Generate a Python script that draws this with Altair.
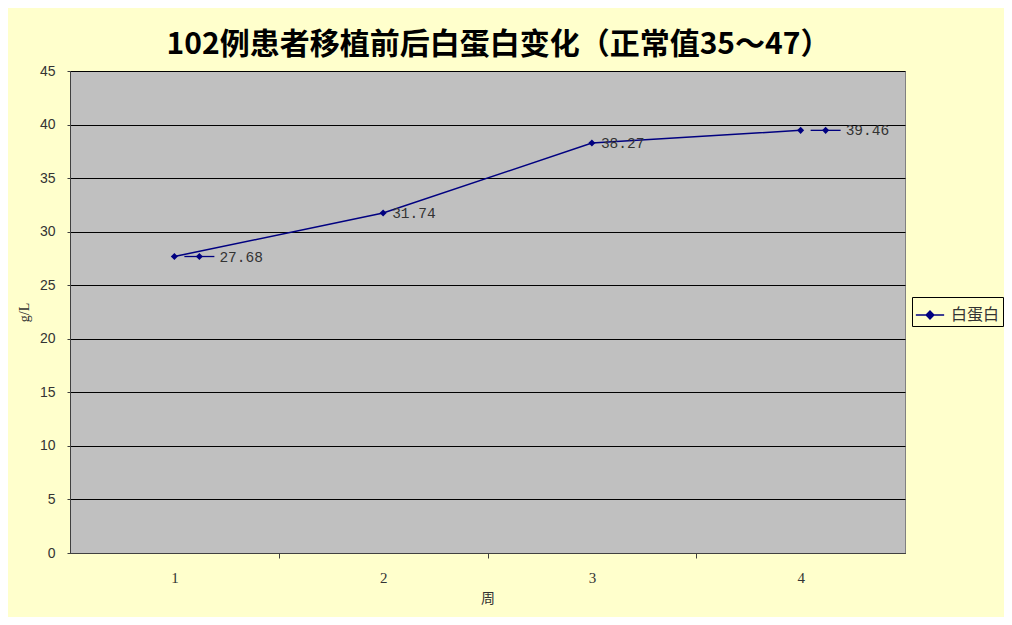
import altair as alt
import pandas as pd

weeks = [1, 2, 3, 4]
albumin = [27.68, 31.74, 38.27, 39.46]
label_text = ["27.68", "31.74", "38.27", "39.46"]
label_key = [True, False, False, True]
series_name = "白蛋白"
title_text = "102例患者移植前后白蛋白变化（正常值35～47）"
y_ticks = [0, 5, 10, 15, 20, 25, 30, 35, 40, 45]
x_ticks = [1, 1.5, 2, 2.5, 3, 3.5, 4]

df = pd.DataFrame({
    "周": weeks,
    "value": albumin,
    "label": label_text,
    "key": label_key,
    "series": [series_name] * len(weeks),
})

NAVY = "#000080"
BG = "#FFFFCC"

x_enc = alt.X(
    "周:Q",
    scale=alt.Scale(domain=[0.5, 4.5], nice=False, zero=False),
    axis=alt.Axis(
        values=x_ticks,
        labelExpr="datum.value % 1 == 0 ? datum.value : ''",
        tickOpacity={"condition": {"test": "datum.value % 1 == 0", "value": 0}, "value": 1},
        tickSize=5,
        tickColor="#404040",
        grid=False,
        domainColor="#404040",
        labelPadding=12,
        labelFont="Liberation Serif",
        labelFontSize=15,
        labelColor="#333333",
        title="周",
        titleFont="Noto Sans CJK SC",
        titleFontSize=14,
        titleFontWeight="normal",
        titleColor="#333333",
        titlePadding=6,
    ),
)
y_enc = alt.Y(
    "value:Q",
    scale=alt.Scale(domain=[0, 45], nice=False),
    axis=alt.Axis(
        values=y_ticks,
        grid=True,
        gridColor="#000000",
        gridWidth=1,
        gridOpacity=1,
        ticks=True,
        tickSize=3,
        tickColor="#404040",
        domainColor="#404040",
        labelPadding=12,
        labelFont="Liberation Sans",
        labelFontSize=14,
        labelColor="#333333",
        title="g/L",
        titleFont="Liberation Serif",
        titleFontSize=14,
        titleFontWeight="normal",
        titleColor="#333333",
        titlePadding=8,
    ),
)

base = alt.Chart(df)

line = base.mark_line(strokeWidth=1.5).encode(
    x=x_enc,
    y=y_enc,
    color=alt.Color(
        "series:N",
        scale=alt.Scale(range=[NAVY]),
        legend=alt.Legend(
            title=None,
            orient="none",
            legendX=842,
            legendY=226,
            symbolType="M-1,0H1M0,-0.28L0.28,0L0,0.28L-0.28,0Z",
            symbolSize=800,
            symbolStrokeWidth=1.3,
            symbolStrokeColor=NAVY,
            symbolFillColor=NAVY,
            labelFont="Noto Sans CJK SC",
            labelFontSize=16,
            labelColor="#333333",
            labelOffset=6,
            strokeColor="#000000",
            fillColor=BG,
            padding=3,
        ),
    ),
)

points = base.mark_point(shape="diamond", filled=True, size=50, color=NAVY, opacity=1).encode(
    x="周:Q", y="value:Q"
)

keyed = base.transform_filter("datum.key")
key_rule = keyed.mark_rule(color=NAVY, strokeWidth=1.3, xOffset=10, x2Offset=40).encode(
    x="周:Q", x2="周:Q", y="value:Q"
)
key_pt = keyed.mark_point(shape="diamond", filled=True, size=50, color=NAVY, opacity=1, xOffset=25).encode(
    x="周:Q", y="value:Q"
)
key_text = keyed.mark_text(align="left", dx=45, dy=1, font="Liberation Mono", fontSize=14.5, color="#333333").encode(
    x="周:Q", y="value:Q", text="label:N"
)
plain_text = base.transform_filter("!datum.key").mark_text(
    align="left", dx=9, dy=1, font="Liberation Mono", fontSize=14.5, color="#333333"
).encode(x="周:Q", y="value:Q", text="label:N")

chart = alt.layer(line, points, key_rule, key_pt, key_text, plain_text).properties(
    width=835,
    height=482,
    background=BG,
    padding={"left": 62, "top": 63, "right": 99, "bottom": 64},
    autosize=alt.AutoSizeParams(type="none"),
    title=alt.TitleParams(
        text=title_text,
        font="Noto Sans CJK SC",
        fontSize=30,
        fontWeight="bold",
        color="#000000",
        anchor="middle",
        frame="group",
        dx=11,
        offset=4,
    ),
).configure_view(
    fill="#C0C0C0",
    stroke="#808080",
    strokeWidth=1,
)

chart.save("out.html", embed_options={"renderer": "svg", "actions": False})
